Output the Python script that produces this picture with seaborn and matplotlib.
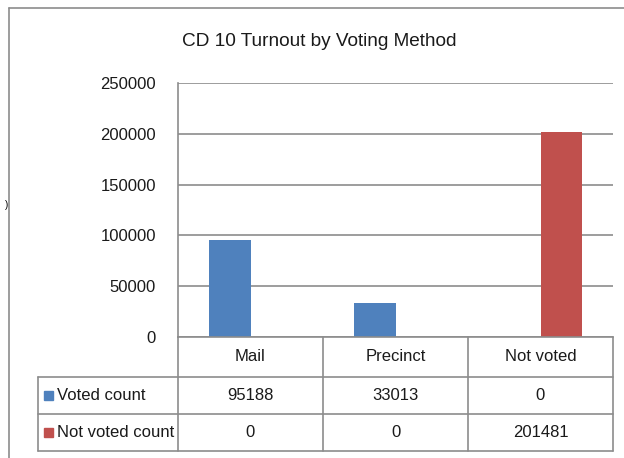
import matplotlib
matplotlib.use("Agg")
import matplotlib.pyplot as plt
import seaborn as sns
import pandas as pd
from matplotlib.lines import Line2D
from matplotlib.patches import Rectangle

# chart data
methods = ["Mail", "Precinct", "Not voted"]
voted_count = [95188, 33013, 0]
not_voted_count = [0, 0, 201481]
series_names = ["Voted count", "Not voted count"]
series_colors = ["#4F81BD", "#C0504D"]
y_ticks = [0, 50000, 100000, 150000, 200000, 250000]
title = "CD 10 Turnout by Voting Method"

W, H = 624, 458
GRAY = "#8C8C8C"
FS = 12

sns.set_theme(style="white")
plt.rcParams["font.family"] = ["Liberation Sans", "DejaVu Sans"]

df = pd.DataFrame({
    "method": methods * 2,
    "series": [series_names[0]] * 3 + [series_names[1]] * 3,
    "value": voted_count + not_voted_count,
})


def fx(x):
    return x / W


def fy(y):
    return 1 - y / H


def hline(y, x0, x1):
    fig.add_artist(Line2D([fx(x0), fx(x1)], [fy(y), fy(y)], color=GRAY, lw=1.2))


def vline(x, y0, y1):
    fig.add_artist(Line2D([fx(x), fx(x)], [fy(y0), fy(y1)], color=GRAY, lw=1.2))


fig = plt.figure(figsize=(W / 100, H / 100), dpi=100)
ax_left, ax_right, ax_top, ax_bottom = 178, 613, 83, 337
ax = fig.add_axes([fx(ax_left), fy(ax_bottom), (ax_right - ax_left) / W, (ax_bottom - ax_top) / H])

sns.barplot(data=df, x="method", y="value", hue="series", hue_order=series_names,
            palette=dict(zip(series_names, series_colors)), width=0.575,
            saturation=1, linewidth=0, legend=False, ax=ax)

ax.set_xlim(-0.5, len(methods) - 0.5)
ax.set_ylim(y_ticks[0], y_ticks[-1])
ax.set_yticks(y_ticks)
ax.set_yticklabels([str(v) for v in y_ticks])
ax.set_xticks([])
ax.set_xlabel("")
ax.set_ylabel("")
ax.yaxis.grid(True, color=GRAY, linewidth=1.2)
ax.set_axisbelow(True)
for side in ["top", "right"]:
    ax.spines[side].set_visible(False)
for side in ["left", "bottom"]:
    ax.spines[side].set_color(GRAY)
    ax.spines[side].set_linewidth(1.2)
ax.tick_params(axis="y", length=0, pad=16, labelsize=FS, colors="#1a1a1a")

# title
fig.text(fx(319.5), fy(42), title, ha="center", va="center", fontsize=13.7, color="#1a1a1a")

# outer chart border
vline(9, 8, H)
hline(8, 9, W)

# data table
col_w = (ax_right - ax_left) / len(methods)
col_edges = [ax_left + i * col_w for i in range(len(methods) + 1)]
row_edges = [ax_bottom, 376.5, 414, 451]
tbl_left = 38
for x in col_edges:
    vline(x, row_edges[0], row_edges[-1])
for y in row_edges[1:]:
    hline(y, tbl_left, ax_right)
vline(tbl_left, row_edges[1], row_edges[-1])

txt = dict(ha="center", va="center", fontsize=FS, color="#1a1a1a")
for i, m in enumerate(methods):
    cx = col_edges[i] + col_w / 2
    fig.text(fx(cx), fy((row_edges[0] + row_edges[1]) / 2), m, **txt)
    fig.text(fx(cx), fy((row_edges[1] + row_edges[2]) / 2), str(voted_count[i]), **txt)
    fig.text(fx(cx), fy((row_edges[2] + row_edges[3]) / 2), str(not_voted_count[i]), **txt)

for r, (name, col) in enumerate(zip(series_names, series_colors)):
    cy = (row_edges[r + 1] + row_edges[r + 2]) / 2
    fig.add_artist(Rectangle((fx(44), fy(cy + 4.5)), 9 / W, 9 / H, color=col,
                             transform=fig.transFigure))
    fig.text(fx(57), fy(cy), name, ha="left", va="center", fontsize=FS, color="#1a1a1a")

fig.text(fx(7), fy(205), ")", ha="center", va="center", fontsize=7, color="black")

fig.savefig("out.png", dpi=100)
